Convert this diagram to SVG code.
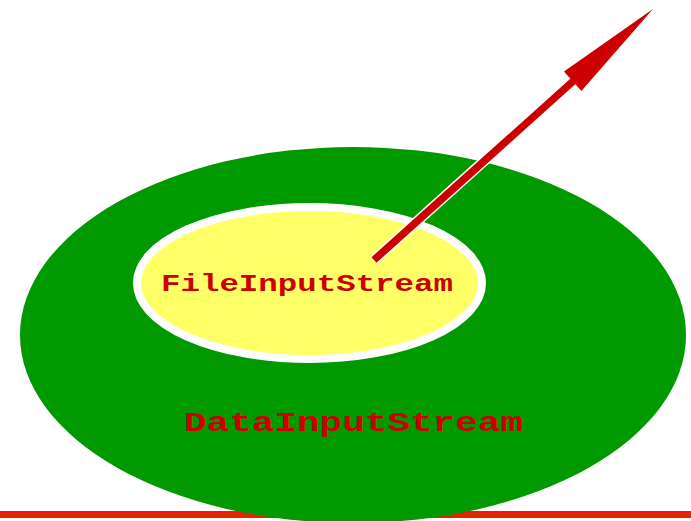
<svg xmlns="http://www.w3.org/2000/svg" width="691" height="521" viewBox="0 0 691 521">
  <style>
    .label { font-family: "Liberation Mono", "Courier New", monospace; font-weight: bold; fill: #CC0000; }
    .outer { fill: #009900; }
    .inner { fill: #FFFF66; stroke: #FFFFFF; stroke-width: 8; }
    .shaft-edge { stroke: #FFFFFF; stroke-width: 10.5; stroke-linecap: butt; fill: none; }
    .shaft { stroke: #CC0000; stroke-width: 7.5; stroke-linecap: butt; fill: none; }
    .head { fill: #CC0000; }
  </style>

  <rect x="0" y="0" width="691" height="521" fill="#FFFFFF"/>

  <!-- rule along the bottom edge -->
  <rect x="0" y="511" width="691" height="7" fill="#E62200"/>

  <g id="data-input-stream">
    <ellipse class="outer" cx="353" cy="335" rx="333" ry="188"/>
    <text class="label" x="184" y="431" font-size="28" textLength="339" lengthAdjust="spacingAndGlyphs">DataInputStream</text>
  </g>

  <g id="file-input-stream">
    <ellipse class="inner" cx="309.5" cy="283" rx="172.5" ry="76"/>
    <text class="label" x="161" y="291" font-size="24" textLength="292" lengthAdjust="spacingAndGlyphs">FileInputStream</text>
  </g>

  <g id="connectors">
    <line class="shaft-edge" x1="374" y1="260" x2="573" y2="81"/>
    <line class="shaft" x1="374" y1="260" x2="575" y2="79.5"/>
    <polygon class="head" points="653,9 581.4,90.9 564,71.5"/>
  </g>
</svg>
